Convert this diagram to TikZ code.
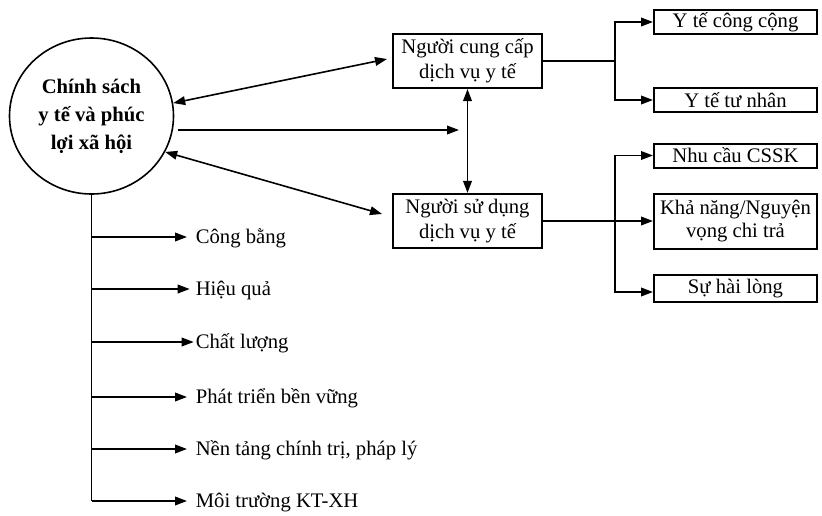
\documentclass[tikz,border=0pt]{standalone}
\usepackage{fontspec}
\setmainfont{Liberation Serif}
\usetikzlibrary{arrows.meta,shapes.geometric}

\begin{document}
\begin{tikzpicture}[x=0.75pt,y=-0.75pt,
  line width=1.2pt,
  >={Triangle[length=9pt,width=6.5pt]},
  txt/.style={font=\fontsize{15.5}{18.5}\selectfont},
  mainbox/.style={txt,draw,line width=1.6pt,inner sep=0pt,align=center,
    minimum width=111.75pt,minimum height=40.5pt},
  subbox/.style={txt,draw,line width=1.5pt,inner sep=0pt,align=center,
    minimum width=122.25pt},
  lbl/.style={txt,inner sep=0pt,anchor=base west},
]
\useasboundingbox (0,0) rectangle (822,515);

% central policy ellipse
\node[draw,ellipse,line width=1.2pt,inner sep=0pt,minimum width=123pt,
  minimum height=117pt,align=center,
  font=\bfseries\fontsize{15.5}{21}\selectfont] (pol) at (91.5,116)
  {Chính sách\\y tế và phúc\\lợi xã hội};

% providers and users
\node[mainbox] (A) at (467.5,61) {Người cung cấp\\dịch vụ y tế};
\node[mainbox] (B) at (467.5,221) {Người sử dụng\\dịch vụ y tế};

% provider types
\node[subbox,minimum height=18pt] (C1) at (735.5,22) {Y tế công cộng};
\node[subbox,minimum height=18pt] (C2) at (735.5,100) {Y tế tư nhân};

% user aspects
\node[subbox,minimum height=18pt] (D1) at (735.5,155.5) {Nhu cầu CSSK};
\node[subbox,minimum height=41.25pt,font=\fontsize{15.5}{17}\selectfont] (D2) at (735.5,221) {Khả năng/Nguyện\\vọng chi trả};
\node[subbox,minimum height=20.25pt] (D3) at (735.5,288.5) {Sự hài lòng};

% links between policy, providers and users
\coordinate (aEnd) at (387,59);
\coordinate (bEnd) at (382,214);
\coordinate (hEnd) at (459,130);
\draw[<->] (pol.9) -- (aEnd);
\draw[<->] (pol.-26) -- (bEnd);
\draw[->,shorten <=2.5pt] (pol.east |- hEnd) -- (hEnd);
\draw[<->] (A.south) -- (B.north);

% provider branch
\coordinate (ja) at (615,61);
\draw (A.east) -- (ja);
\draw[<->] (C1.west) -| (ja) |- (C2.west);

% user branch
\coordinate (jb) at (615,221);
\coordinate (jb3) at (615,292);
\draw (B.east) -- (jb);
\draw[->] (jb) -- (D2.west);
\draw[<->] (D1.west) -| (jb) |- (jb3 -| D3.west);

% policy goals
\node[lbl] (g1) at (195,243) {Công bằng};
\node[lbl] (g2) at (195,295) {Hiệu quả};
\node[lbl] (g3) at (195,348) {Chất lượng};
\node[lbl] (g4) at (195,403) {Phát triển bền vững};
\node[lbl] (g5) at (195,455) {Nền tảng chính trị, pháp lý};
\node[lbl] (g6) at (195,507) {Môi trường KT-XH};

\coordinate (t1) at (91.5,237);
\coordinate (t2) at (91.5,289);
\coordinate (t3) at (91.5,342);
\coordinate (t4) at (91.5,397);
\coordinate (t5) at (91.5,449);
\coordinate (t6) at (91.5,501);

\draw (pol.south) -- (t6);
\draw[->,shorten >=6pt] (t1) -- (t1 -| g1.west);
\draw[->,shorten >=4pt] (t2) -- (t2 -| g2.west);
\draw[->,shorten >=1pt] (t3) -- (t3 -| g3.west);
\draw[->,shorten >=6pt] (t4) -- (t4 -| g4.west);
\draw[->,shorten >=6pt] (t5) -- (t5 -| g5.west);
\draw[->,shorten >=6pt] (t6) -- (t6 -| g6.west);
\end{tikzpicture}
\end{document}
